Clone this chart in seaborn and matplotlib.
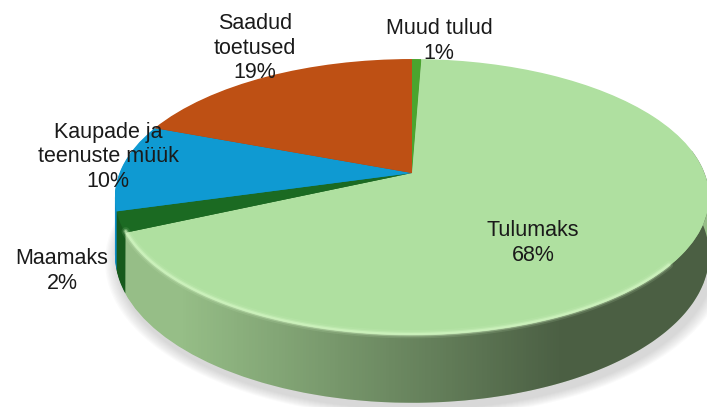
import numpy as np
import matplotlib
matplotlib.use("Agg")
import matplotlib.pyplot as plt
import matplotlib.transforms as mtransforms
from matplotlib.patches import Polygon, Circle
from matplotlib.lines import Line2D
import seaborn as sns

# ---- data (clockwise from 12 o'clock), shares in % ----
categories = ["Muud tulud", "Tulumaks", "Maamaks", "Kaupade ja\nteenuste müük", "Saadud\ntoetused"]
values = [0.6, 67.6, 2.4, 10.2, 19.2]

# ---- styling ----
top_colors = ["#4AA52E", "#AFE0A0", "#1B6A22", "#0F9AD2", "#BE5014"]
side_colors = ["#357A22", "#96BE87", "#175A1C", "#0C8CC4", "#9A4012"]
label_px = [(439, 41), (533, 243), (62, 271), (108, 157), (255, 48)]

sns.set_theme(style="white")
plt.rcParams["font.family"] = ["Liberation Sans", "DejaVu Sans"]

W, H = 707, 407
# perspective of the tilted disc (pixels, y downward)
CXP, Y0, A, B, C, D = 412, 173, 292.5, 133.8, 0.174, 56


class Persp(mtransforms.Transform):
    """Map the unit pie disc (u, v) at extrusion depth h to axes coords."""
    input_dims = 2
    output_dims = 2
    is_separable = False
    has_inverse = False

    def __init__(self, h=0.0):
        super().__init__()
        self.h = h

    def transform_non_affine(self, values):
        pts = np.asarray(values, dtype=float)
        u, v = pts[:, 0], pts[:, 1]
        t = 1 + C * v
        x = CXP + A * u / t
        y = Y0 - B * v / t + D * self.h / t
        return np.column_stack([x / W, 1 - y / H])


fig = plt.figure(figsize=(W / 100, H / 100), dpi=100)
ax = fig.add_axes([0, 0, 1, 1])
ax.set_xlim(0, 1)
ax.set_ylim(0, 1)

# soft shadow below the disc
for s in range(1, 10):
    sh = Circle((0.012, -0.02), 1 + s * 0.0045, facecolor="0.45", alpha=0.03,
                lw=0, zorder=0)
    sh.set_transform(Persp(1.03) + ax.transAxes)
    ax.add_patch(sh)

# extruded side: stacked pies
for h in np.linspace(1, 0, 60, endpoint=False):
    wedges, _ = ax.pie(values, colors=side_colors, startangle=90, counterclock=False,
                       center=(0, 0), radius=1,
                       wedgeprops=dict(linewidth=0, edgecolor="none", zorder=1))
    for w in wedges:
        w.set_transform(Persp(h) + ax.transAxes)

# horizontal shading of the front side
th = np.radians(np.linspace(170, 370, 400))
ring_top = Persp(0).transform_non_affine(np.column_stack([np.cos(th), np.sin(th)]))
ring_bot = Persp(1).transform_non_affine(np.column_stack([np.cos(th[::-1]), np.sin(th[::-1])]))
poly = Polygon(np.vstack([ring_top, ring_bot]), closed=True, facecolor="none",
               edgecolor="none", transform=ax.transAxes)
ax.add_patch(poly)
xs = np.arange(W)
alpha = np.clip((xs - 180) / 380.0, 0, 1) * 0.5
img = np.zeros((2, W, 4))
img[..., 3] = alpha
im = ax.imshow(img, extent=(0, 1, 0, 1), aspect="auto", zorder=2,
               interpolation="bilinear", transform=ax.transAxes)
im.set_clip_path(poly)

# top face
wedges, _ = ax.pie(values, colors=top_colors, startangle=90, counterclock=False,
                   center=(0, 0), radius=1,
                   wedgeprops=dict(linewidth=0, edgecolor="none", zorder=3))
for w in wedges:
    w.set_transform(Persp(0) + ax.transAxes)

# soft rim highlight (bevel)
ht = np.radians(np.linspace(204, 322, 200))
for lw, al in [(6, 0.12), (3.5, 0.3), (1.8, 0.6)]:
    rim = Line2D(np.cos(ht) * 0.996, np.sin(ht) * 0.996, color="#D4F6C4", lw=lw,
                 alpha=al, zorder=4, solid_capstyle="round")
    rim.set_transform(Persp(0) + ax.transAxes)
    ax.add_line(rim)

# labels
for name, v, (px, py) in zip(categories, values, label_px):
    ax.text(px / W, 1 - py / H, f"{name}\n{v:.0f}%", ha="center", va="center",
            fontsize=15.5, color="#1a1a1a", linespacing=1.22, zorder=5,
            transform=ax.transAxes)

ax.set_xlim(0, 1)
ax.set_ylim(0, 1)
ax.set_aspect("auto")
ax.axis("off")

fig.savefig("out.png", dpi=100)
